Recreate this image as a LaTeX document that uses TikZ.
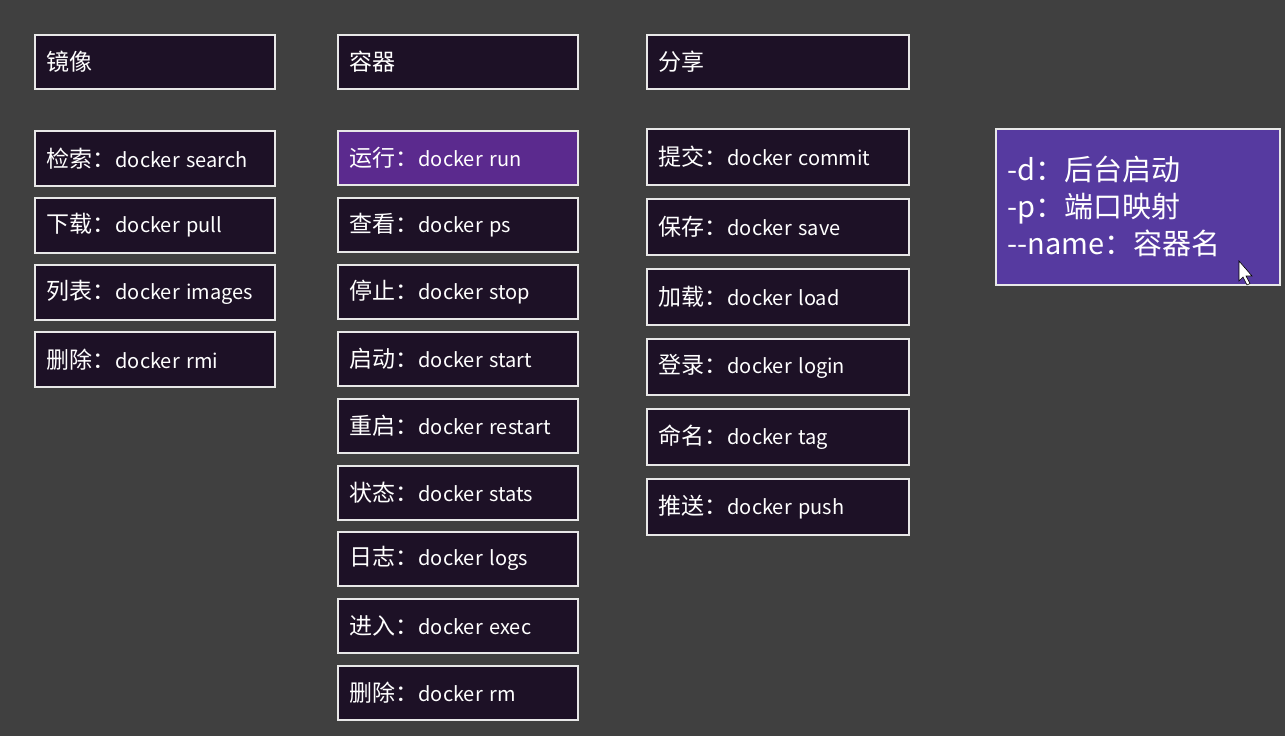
\documentclass[tikz,border=0pt]{standalone}
\usepackage{fontspec}
\setmainfont{Noto Sans CJK SC}
\definecolor{bgc}{RGB}{64,64,64}
\definecolor{boxfill}{RGB}{29,17,38}
\definecolor{runfill}{RGB}{91,42,142}
\definecolor{optfill}{RGB}{86,58,160}
\definecolor{boxline}{RGB}{232,232,232}
\tikzset{
  dkbox/.style={draw=boxline, line width=1.6pt, fill=boxfill, text=white,
    anchor=north west, inner xsep=11pt, inner ysep=0pt, align=left,
    font=\fontsize{20}{25}\selectfont},
  dkhead/.style={dkbox, font=\fontsize{23}{27}\selectfont},
}
\newcommand\cjkpart[1]{{\fontsize{23}{25}\selectfont #1}}
\newcommand\dkitem[7]{% name, x, y, w, h, prefix, command
  \node[dkbox, minimum width=#4pt, minimum height=#5pt, text width=#4pt-23.5pt] (#1) at (#2,#3) {\cjkpart{#6：}#7};}
\newcommand\dkhd[6]{% name, x, y, w, h, text
  \node[dkhead, minimum width=#4pt, minimum height=#5pt, text width=#4pt-23.5pt] (#1) at (#2,#3) {#6};}
\begin{document}
\begin{tikzpicture}[x=1pt,y=-1pt]
\fill[bgc] (0,0) rectangle (1285,736);
\useasboundingbox (0,0) rectangle (1285,736);
% column 1
\dkhd{h1}{34}{34}{240}{54}{镜像}
\dkitem{a1}{34}{130}{240}{55}{检索}{docker search}
\dkitem{a2}{34}{197}{240}{55}{下载}{docker pull}
\dkitem{a3}{34}{264}{240}{55}{列表}{docker images}
\dkitem{a4}{34}{331}{240}{55}{删除}{docker rmi}
% column 2
\dkhd{h2}{337}{34}{240}{54}{容器}
\node[dkbox, fill=runfill, minimum width=240pt, minimum height=54pt, text width=216.5pt] (b1) at (337,130) {\cjkpart{运行：}docker run};
\dkitem{b2}{337}{197}{240}{54}{查看}{docker ps}
\dkitem{b3}{337}{264}{240}{54}{停止}{docker stop}
\dkitem{b4}{337}{331}{240}{54}{启动}{docker start}
\dkitem{b5}{337}{398}{240}{54}{重启}{docker restart}
\dkitem{b6}{337}{465}{240}{54}{状态}{docker stats}
\dkitem{b7}{337}{531}{240}{54}{日志}{docker logs}
\dkitem{b8}{337}{598}{240}{54}{进入}{docker exec}
\dkitem{b9}{337}{665}{240}{54}{删除}{docker rm}
% column 3
\dkhd{h3}{646}{34}{262}{54}{分享}
\dkitem{c1}{646}{128}{262}{56}{提交}{docker commit}
\dkitem{c2}{646}{198}{262}{56}{保存}{docker save}
\dkitem{c3}{646}{268}{262}{56}{加载}{docker load}
\dkitem{c4}{646}{338}{262}{56}{登录}{docker login}
\dkitem{c5}{646}{408}{262}{56}{命名}{docker tag}
\dkitem{c6}{646}{478}{262}{56}{推送}{docker push}
% options box
\node[dkbox, fill=optfill, minimum width=284pt, minimum height=156pt, text width=260pt,
  font=\fontsize{29}{37}\selectfont] (opt) at (995,128) {-d：后台启动\\-p：端口映射\\-{}-name：容器名};
% cursor
\coordinate (tip) at (1239,261);
\filldraw[fill=white, draw=black, line width=0.6pt] (tip) -- ++(0,20) -- ++(4,-4) -- ++(4,8) -- ++(3,-1.5) -- ++(-4,-7.5) -- ++(6,0) -- cycle;
\end{tikzpicture}
\end{document}
